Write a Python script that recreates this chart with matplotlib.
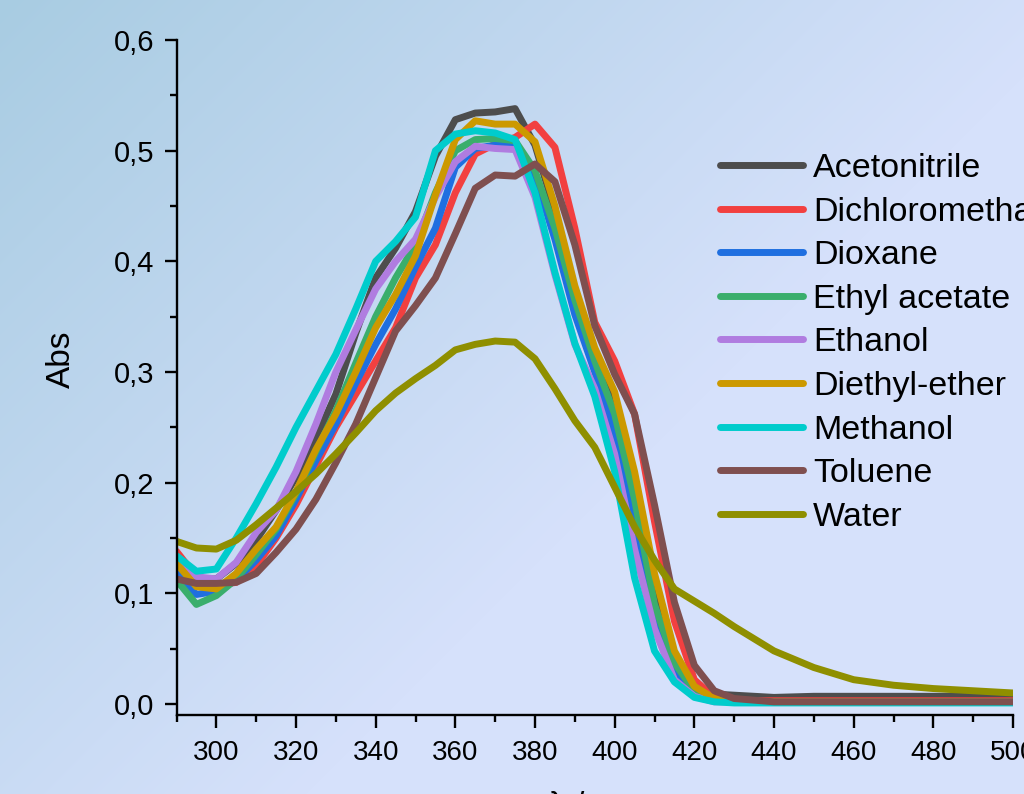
import numpy as np
import matplotlib
matplotlib.use("Agg")
import matplotlib.pyplot as plt
from matplotlib.ticker import MultipleLocator, FixedLocator, FixedFormatter

plt.rcParams['font.family'] = ['Liberation Sans', 'DejaVu Sans']

wavelength = [290, 295, 300, 305, 310, 315, 320, 325, 330, 335, 340, 345, 350, 355,
              360, 365, 370, 375, 380, 385, 390, 395, 400, 405, 410, 415, 420, 425,
              430, 440, 450, 460, 470, 480, 490, 500]

acetonitrile = [0.120, 0.113, 0.113, 0.127, 0.148, 0.175, 0.205, 0.240, 0.280, 0.335, 0.385,
                0.412, 0.445, 0.495, 0.528, 0.534, 0.535, 0.538, 0.505, 0.445, 0.375, 0.315,
                0.270, 0.195, 0.100, 0.040, 0.015, 0.009, 0.008, 0.006, 0.007, 0.007, 0.007,
                0.007, 0.007, 0.007]
dichloromethane = [0.138, 0.115, 0.107, 0.110, 0.125, 0.150, 0.180, 0.215, 0.250, 0.280,
                   0.310, 0.340, 0.385, 0.415, 0.462, 0.497, 0.506, 0.512, 0.524, 0.503,
                   0.430, 0.345, 0.310, 0.262, 0.165, 0.075, 0.022, 0.006, 0.003, 0.003,
                   0.003, 0.003, 0.003, 0.003, 0.003, 0.003]
dioxane = [0.118, 0.099, 0.102, 0.112, 0.130, 0.152, 0.185, 0.220, 0.253, 0.290, 0.325,
           0.357, 0.395, 0.430, 0.485, 0.502, 0.505, 0.504, 0.478, 0.420, 0.352, 0.300,
           0.245, 0.165, 0.080, 0.030, 0.010, 0.003, 0.002, 0.002, 0.002, 0.002, 0.002,
           0.002, 0.002, 0.002]
ethyl_acetate = [0.112, 0.090, 0.098, 0.113, 0.135, 0.158, 0.190, 0.228, 0.265, 0.308,
                 0.350, 0.385, 0.415, 0.462, 0.500, 0.510, 0.511, 0.509, 0.482, 0.430,
                 0.365, 0.310, 0.262, 0.185, 0.090, 0.037, 0.012, 0.004, 0.002, 0.002,
                 0.002, 0.002, 0.002, 0.002, 0.002, 0.002]
ethanol = [0.125, 0.115, 0.113, 0.128, 0.155, 0.175, 0.210, 0.253, 0.300, 0.338, 0.375,
           0.400, 0.420, 0.458, 0.490, 0.504, 0.502, 0.501, 0.458, 0.388, 0.325, 0.285,
           0.226, 0.140, 0.068, 0.022, 0.007, 0.002, 0.002, 0.002, 0.002, 0.002, 0.002,
           0.002, 0.002, 0.002]
diethyl_ether = [0.127, 0.106, 0.104, 0.118, 0.140, 0.160, 0.192, 0.230, 0.262, 0.300,
                 0.340, 0.370, 0.405, 0.460, 0.510, 0.527, 0.524, 0.524, 0.508, 0.450,
                 0.378, 0.322, 0.282, 0.210, 0.118, 0.048, 0.016, 0.005, 0.002, 0.002,
                 0.002, 0.002, 0.002, 0.002, 0.002, 0.002]
methanol = [0.134, 0.120, 0.122, 0.150, 0.181, 0.214, 0.250, 0.283, 0.316, 0.357, 0.400,
            0.418, 0.440, 0.500, 0.515, 0.518, 0.516, 0.510, 0.462, 0.390, 0.326, 0.278,
            0.210, 0.114, 0.048, 0.020, 0.006, 0.002, 0.001, 0.001, 0.001, 0.001, 0.001,
            0.001, 0.001, 0.001]
toluene = [0.113, 0.109, 0.109, 0.110, 0.118, 0.137, 0.158, 0.185, 0.218, 0.253, 0.295,
           0.337, 0.360, 0.385, 0.425, 0.466, 0.478, 0.477, 0.488, 0.472, 0.415, 0.342,
           0.298, 0.262, 0.180, 0.092, 0.035, 0.012, 0.005, 0.002, 0.002, 0.002, 0.002,
           0.002, 0.002, 0.002]
water = [0.147, 0.141, 0.140, 0.148, 0.162, 0.177, 0.192, 0.208, 0.226, 0.245, 0.265,
         0.281, 0.294, 0.306, 0.320, 0.325, 0.328, 0.327, 0.312, 0.285, 0.256, 0.232,
         0.196, 0.160, 0.130, 0.104, 0.093, 0.082, 0.070, 0.048, 0.033, 0.022, 0.017,
         0.014, 0.012, 0.010]

solvents = ["Acetonitrile", "Dichloromethane", "Dioxane", "Ethyl acetate", "Ethanol",
            "Diethyl-ether", "Methanol", "Toluene", "Water"]
series = [acetonitrile, dichloromethane, dioxane, ethyl_acetate, ethanol,
          diethyl_ether, methanol, toluene, water]
colors = ["#4d4d4d", "#f24040", "#1f6fe0", "#3aae6c", "#b07ce0",
          "#cc9900", "#00cccc", "#7f4f4f", "#8f8f00"]

yticks = [0.0, 0.1, 0.2, 0.3, 0.4, 0.5, 0.6]
ytick_labels = ["0,0", "0,1", "0,2", "0,3", "0,4", "0,5", "0,6"]
xticks = [300, 320, 340, 360, 380, 400, 420, 440, 460, 480, 500]
xtick_labels = [str(v) for v in xticks]

W, H = 1024, 794
fig = plt.figure(figsize=(W / 100, H / 100), dpi=100)

# background gradient
bg = fig.add_axes([0, 0, 1, 1], zorder=-10)
yy, xx = np.mgrid[0:H, 0:W]
t = np.clip((xx + yy) / 1100.0, 0, 1)[..., None]
c0 = np.array([168, 204, 226]) / 255.0
c1 = np.array([214, 225, 251]) / 255.0
img = c0 * (1 - t) + c1 * t
bg.imshow(img, aspect='auto', extent=[0, 1, 0, 1], origin='upper')
bg.axis('off')

ax = fig.add_axes([176.5 / W, 1 - 715 / H, (1013 - 176.5) / W, (715 - 40) / H])
ax.patch.set_alpha(0)

for name, vals, col in zip(solvents, series, colors):
    ax.plot(wavelength, vals, color=col, lw=5.0, label=name, solid_capstyle='round',
            solid_joinstyle='round')

ax.set_xlim(290, 500)
ax.set_ylim(-0.0099, 0.6)
for s in ['top', 'right']:
    ax.spines[s].set_visible(False)
for s in ['left', 'bottom']:
    ax.spines[s].set_linewidth(1.7)

ax.yaxis.set_major_locator(FixedLocator(yticks))
ax.yaxis.set_major_formatter(FixedFormatter(ytick_labels))
ax.yaxis.set_minor_locator(MultipleLocator(0.05))
ax.xaxis.set_major_locator(FixedLocator(xticks))
ax.xaxis.set_major_formatter(FixedFormatter(xtick_labels))
ax.xaxis.set_minor_locator(MultipleLocator(10))

ax.tick_params(which='major', direction='out', length=9, width=1.7, colors='black')
ax.tick_params(which='minor', direction='out', length=5, width=1.7)
ax.tick_params(axis='y', which='major', pad=7, labelsize=21)
ax.tick_params(axis='x', which='major', pad=9, labelsize=20)

ax.set_ylabel("Abs", fontsize=24)
ax.yaxis.set_label_coords(-0.119, 0.527)
ax.set_xlabel("λ / nm", fontsize=24, va='top')
ax.xaxis.set_label_coords(0.5, -0.113)

ax.legend(loc='upper left', bbox_to_anchor=(720 / W, 1 - 153 / H),
          bbox_transform=fig.transFigure, frameon=False, fontsize=24.5,
          handlelength=2.45, handletextpad=0.28, labelspacing=0.37,
          borderpad=0, borderaxespad=0)

fig.savefig("out.png", dpi=100)
